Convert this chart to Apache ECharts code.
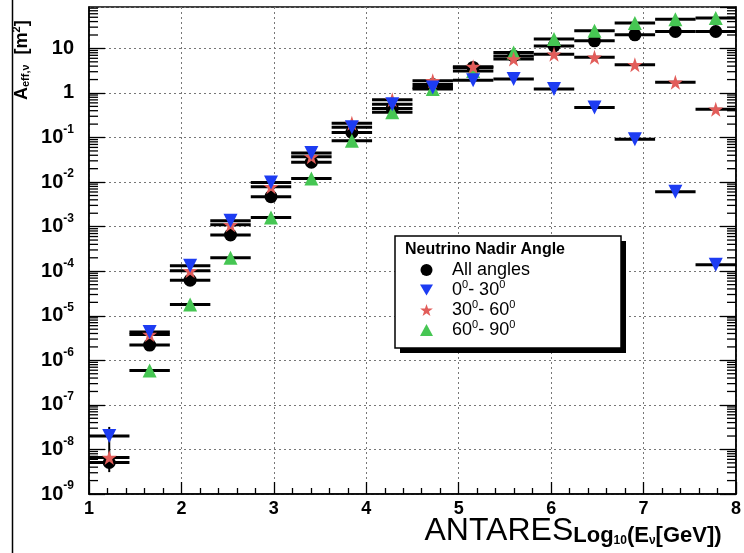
<!DOCTYPE html>
<html>
<head>
<meta charset="utf-8">
<script src="https://cdn.jsdelivr.net/npm/echarts@6/dist/echarts.min.js"></script>
<style>
  html, body { margin: 0; padding: 0; background: #fff; }
  #chart { width: 744px; height: 553px; }
</style>
</head>
<body>
<div id="chart"></div>
<script>
// Neutrino effective area vs. energy, split by nadir angle.
// 16 equal bins in log10(E/GeV) from 1 to 8.
const binCentres = [1.219, 1.656, 2.094, 2.531, 2.969, 3.406, 3.844, 4.281,
                    4.719, 5.156, 5.594, 6.031, 6.469, 6.906, 7.344, 7.781];
const binHalfWidth = 0.21875;

// Effective area [m^2] per bin
const areaAllAngles = [5.1e-9, 2.2e-6, 6.3e-5, 6.5e-4, 4.7e-3, 2.8e-2, 0.13, 0.45,
                       1.54, 3.75, 6.8, 11.4, 14.8, 20.2, 24, 24];
const areaNadir0to30 = [2.0e-8, 4.3e-6, 1.32e-4, 1.35e-3, 9.8e-3, 4.5e-2, 0.17, 0.56,
                        1.33, 1.94, 2.05, 1.22, 0.47, 0.092, 6.1e-3, 1.4e-4];
const areaNadir30to60 = [6.6e-9, 3.8e-6, 1.02e-4, 1.1e-3, 7.9e-3, 3.7e-2, 0.21, 0.70,
                         1.87, 3.9, 5.75, 7.4, 6.3, 4.3, 1.73, 0.43];
const areaNadir60to90 = [null, 5.9e-7, 1.8e-5, 2.0e-4, 1.6e-3, 1.2e-2, 0.085, 0.37,
                         1.23, 3.1, 8.1, 16.2, 24.8, 37, 45.4, 47.9];
// vertical uncertainty [low, high] where it is large enough to show
const areaAllAnglesErr = [[3.1e-9, 3.2e-8], null, null, null, null, null, null, null,
                          null, null, null, null, null, null, null, null];

const seriesNames = ['All angles', '0⁰- 30⁰', '30⁰- 60⁰', '60⁰- 90⁰'];
const legendTitle = 'Neutrino Nadir Angle';
const xTickValues = { min: 1, max: 8, step: 1 };
const yRange = { min: 1e-9, max: 85 };
const minorMultipliers = [2, 3, 4, 5, 6, 7, 8, 9];
const minorDecades = [-9, -8, -7, -6, -5, -4, -3, -2, -1, 0, 1];

const FONT = '"Liberation Sans", Arial, Helvetica, sans-serif';
const STAR = 'path://M50,0 L61.8,35.4 L99,35.4 L69,57.3 L80.4,92.7 L50,70.8 L19.6,92.7 L31,57.3 L1,35.4 L38.2,35.4 Z';
const TRI_DOWN = 'path://M0,0 L100,0 L50,86 Z';

function points(vals) {
  const out = [];
  binCentres.forEach((x, i) => { if (vals[i] != null) out.push([x, vals[i]]); });
  return out;
}
function barRows(vals, errs) {
  const out = [];
  binCentres.forEach((x, i) => {
    if (vals[i] == null) return;
    const e = errs && errs[i];
    out.push([x, vals[i], e ? e[0] : 0, e ? e[1] : 0]);
  });
  return out;
}

// horizontal bin-width bars (and vertical error where given)
function renderBars(params, api) {
  const x = api.value(0), y = api.value(1);
  const lo = api.value(2), hi = api.value(3);
  const l = api.coord([x - binHalfWidth, y]);
  const r = api.coord([x + binHalfWidth, y]);
  const children = [{
    type: 'line', shape: { x1: l[0], y1: l[1], x2: r[0], y2: r[1] },
    style: { stroke: '#000', lineWidth: 3 }
  }];
  if (lo > 0 && hi > 0) {
    const a = api.coord([x, lo]), b = api.coord([x, hi]);
    children.push({ type: 'line', shape: { x1: a[0], y1: a[1], x2: b[0], y2: b[1] },
                    style: { stroke: '#000', lineWidth: 2 } });
  }
  return { type: 'group', children };
}

// logarithmic minor ticks on both vertical frame sides
const minorTickValues = [];
minorDecades.forEach(d => minorMultipliers.forEach(m => {
  const v = m * Math.pow(10, d);
  if (v > yRange.min && v < yRange.max) minorTickValues.push([xTickValues.min, v]);
}));
function renderMinor(params, api) {
  const cs = params.coordSys;
  const y = api.coord([xTickValues.min, api.value(1)])[1];
  const st = { stroke: '#000', lineWidth: 1.3 };
  return { type: 'group', children: [
    { type: 'line', shape: { x1: cs.x, y1: y, x2: cs.x + 9, y2: y }, style: st },
    { type: 'line', shape: { x1: cs.x + cs.width - 9, y1: y, x2: cs.x + cs.width, y2: y }, style: st }
  ] };
}

const legendLabels = {
  'All angles': '{t|All angles}',
  '0⁰- 30⁰': '{t|0}{u|0}{t|- 30}{u|0}',
  '30⁰- 60⁰': '{t|30}{u|0}{t|- 60}{u|0}',
  '60⁰- 90⁰': '{t|60}{u|0}{t|- 90}{u|0}'
};

const yLabel = v => {
  const e = Math.round(Math.log10(v));
  if (e === 0) return '{b|1}';
  if (e === 1) return '{b|10}';
  return '{b|10}{e|' + e + '}';
};

const yAxisCommon = {
  type: 'log', logBase: 10, min: yRange.min, max: yRange.max,
  interval: 1, splitNumber: 11,
  axisLine: { show: true, lineStyle: { color: '#000', width: 1.5 } },
  axisTick: { show: true, inside: true, length: 16, lineStyle: { color: '#000', width: 1.3 } }
};

const option = {
  backgroundColor: '#fff',
  animation: false,
  grid: { left: 89, right: 4, top: 7, bottom: 59, show: true,
          borderColor: '#000', borderWidth: 1.5, backgroundColor: '#fff' },
  xAxis: {
    type: 'value', min: xTickValues.min, max: xTickValues.max, interval: xTickValues.step,
    axisLine: { show: true, lineStyle: { color: '#000', width: 1.5 } },
    axisTick: { show: true, inside: true, length: 12, lineStyle: { color: '#000', width: 1.3 } },
    minorTick: { show: true, splitNumber: 5, length: 6, lineStyle: { color: '#000', width: 1.3 } },
    axisLabel: { fontFamily: FONT, fontSize: 18, fontWeight: 'bold', color: '#000', margin: 6 },
    splitLine: { show: true, lineStyle: { color: '#777', type: [2, 3], width: 1 } },
    name: '{a|ANTARES}{b|Log}{s|10}{b|(E}{s|ν}{b|[GeV])}',
    nameLocation: 'middle',
    nameGap: 17,
    nameMoveOverlap: false,
    nameTextStyle: {
      fontFamily: FONT, color: '#000', align: 'left', verticalAlign: 'top',
      padding: [0, 0, 0, 12],
      rich: {
        a: { fontFamily: FONT, fontSize: 32, lineHeight: 36, verticalAlign: 'bottom', color: '#000' },
        b: { fontFamily: FONT, fontSize: 22, fontWeight: 'bold', lineHeight: 34, verticalAlign: 'bottom', color: '#000' },
        s: { fontFamily: FONT, fontSize: 12, fontWeight: 'bold', lineHeight: 1, verticalAlign: 'bottom', color: '#000' }
      }
    }
  },
  yAxis: [
    Object.assign({}, yAxisCommon, {
      position: 'left',
      axisLabel: {
        showMaxLabel: false, margin: 15, color: '#000', formatter: yLabel,
        rich: {
          b: { fontFamily: FONT, fontSize: 20, fontWeight: 'bold', lineHeight: 28, color: '#000' },
          e: { fontFamily: FONT, fontSize: 12, fontWeight: 'bold', lineHeight: 12, verticalAlign: 'top', color: '#000' }
        }
      },
      splitLine: { show: true, lineStyle: { color: '#777', type: [2, 3], width: 1 } }
    }),
    Object.assign({}, yAxisCommon, {
      position: 'right',
      axisLabel: { show: false },
      splitLine: { show: false }
    })
  ],
  legend: {
    data: [
      { name: seriesNames[0], icon: 'circle' },
      { name: seriesNames[1], icon: TRI_DOWN },
      { name: seriesNames[2], icon: STAR },
      { name: seriesNames[3], icon: 'triangle' }
    ],
    orient: 'vertical',
    left: 395, top: 236,
    padding: [25, 0, 0, 25],
    itemGap: 0,
    itemWidth: 13, itemHeight: 12,
    z: 10,
    selectedMode: false,
    formatter: n => legendLabels[n],
    textStyle: {
      fontFamily: FONT, fontSize: 18, color: '#000', padding: [0, 0, 0, 14],
      rich: {
        t: { fontFamily: FONT, fontSize: 18, lineHeight: 22, color: '#000' },
        u: { fontFamily: FONT, fontSize: 11, lineHeight: 10, verticalAlign: 'top', color: '#000' }
      }
    }
  },
  graphic: [
    { type: 'line', shape: { x1: 12.5, y1: 0, x2: 12.5, y2: 553 },
      style: { stroke: '#000', lineWidth: 1.5 }, z: 1 },
    { type: 'rect', shape: { x: 400, y: 241, width: 226, height: 112 },
      style: { fill: '#000' }, z: 8 },
    { type: 'rect', shape: { x: 395, y: 236, width: 226, height: 112 },
      style: { fill: '#fff', stroke: '#000', lineWidth: 1.5 }, z: 9 },
    { type: 'text', x: 405, y: 250, z: 11,
      style: { text: legendTitle, font: 'bold 16px ' + FONT, fill: '#000',
               verticalAlign: 'middle', align: 'left' } },
    { type: 'text', x: 21, y: 100, rotation: Math.PI / 2, z: 11,
      style: {
        text: '{b|A}{s|eff,ν}{b|  [m}{p|2}{b|]}',
        verticalAlign: 'middle', align: 'left', fill: '#000',
        rich: {
          b: { fontFamily: FONT, fontSize: 18, fontWeight: 'bold', lineHeight: 20, verticalAlign: 'bottom', fill: '#000' },
          s: { fontFamily: FONT, fontSize: 11, fontWeight: 'bold', lineHeight: 2, verticalAlign: 'bottom', fill: '#000' },
          p: { fontFamily: FONT, fontSize: 11, fontWeight: 'bold', lineHeight: 11, verticalAlign: 'top', fill: '#000' }
        }
      } }
  ],
  series: [
    { type: 'custom', name: 'minor-ticks', silent: true, renderItem: renderMinor,
      data: minorTickValues, z: 7, encode: { x: 0, y: 1 } },
    { type: 'custom', name: 'bars-all', silent: true, renderItem: renderBars,
      data: barRows(areaAllAngles, areaAllAnglesErr), z: 2, encode: { x: 0, y: 1 } },
    { type: 'custom', name: 'bars-0-30', silent: true, renderItem: renderBars,
      data: barRows(areaNadir0to30), z: 2, encode: { x: 0, y: 1 } },
    { type: 'custom', name: 'bars-30-60', silent: true, renderItem: renderBars,
      data: barRows(areaNadir30to60), z: 2, encode: { x: 0, y: 1 } },
    { type: 'custom', name: 'bars-60-90', silent: true, renderItem: renderBars,
      data: barRows(areaNadir60to90), z: 2, encode: { x: 0, y: 1 } },
    { type: 'scatter', name: seriesNames[0], data: points(areaAllAngles),
      symbol: 'circle', symbolSize: 13, itemStyle: { color: '#000', opacity: 1 }, z: 3 },
    { type: 'scatter', name: seriesNames[3], data: points(areaNadir60to90),
      symbol: 'triangle', symbolSize: 14, itemStyle: { color: '#46c653', opacity: 1 }, z: 4 },
    { type: 'scatter', name: seriesNames[2], data: points(areaNadir30to60),
      symbol: STAR, symbolSize: 15, itemStyle: { color: '#e25d5a', opacity: 1 }, z: 5 },
    { type: 'scatter', name: seriesNames[1], data: points(areaNadir0to30),
      symbol: TRI_DOWN, symbolSize: 14, itemStyle: { color: '#1d3cf2', opacity: 1 }, z: 6 }
  ]
};

const chart = echarts.init(document.getElementById('chart'));
chart.setOption(option);
</script>
</body>
</html>
